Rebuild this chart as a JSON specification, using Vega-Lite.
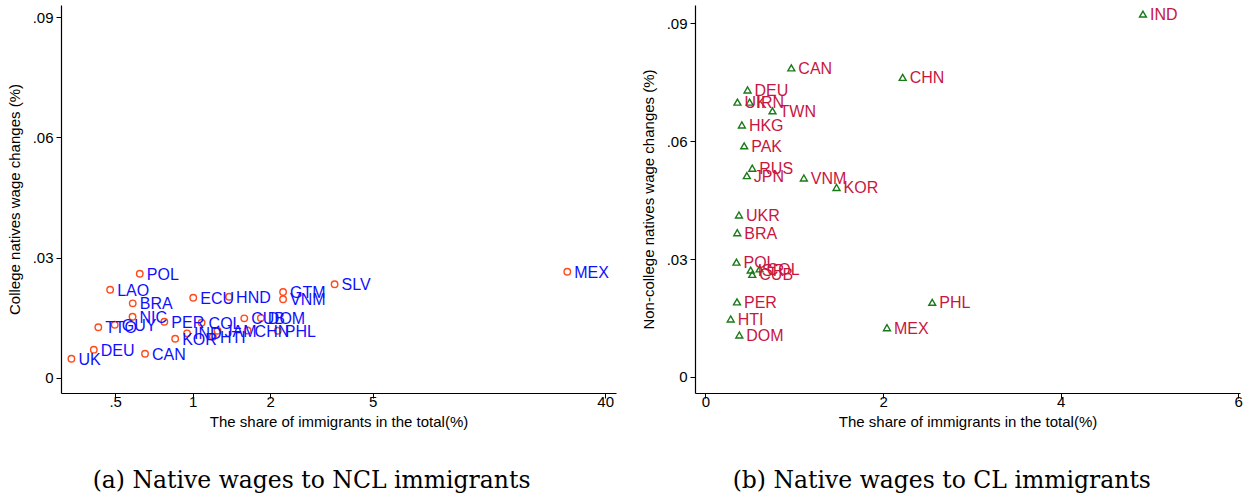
{
  "$schema": "https://vega.github.io/schema/vega-lite/v6.json",
  "padding": {"left": 7, "top": 5, "right": 0, "bottom": 0},
  "background": "white",
  "spacing": 25,
  "datasets": {
    "ncl": [
      {"country": "UK", "share": 0.338, "wage": 0.00481},
      {"country": "DEU", "share": 0.413, "wage": 0.00706},
      {"country": "CAN", "share": 0.653, "wage": 0.00606},
      {"country": "TTO", "share": 0.430, "wage": 0.01264},
      {"country": "GUY", "share": 0.498, "wage": 0.01329},
      {"country": "NIC", "share": 0.584, "wage": 0.01528},
      {"country": "BRA", "share": 0.585, "wage": 0.01862},
      {"country": "LAO", "share": 0.478, "wage": 0.0220},
      {"country": "POL", "share": 0.623, "wage": 0.0260},
      {"country": "PER", "share": 0.776, "wage": 0.01404},
      {"country": "KOR", "share": 0.855, "wage": 0.0098},
      {"country": "IND", "share": 0.951, "wage": 0.01114},
      {"country": "ECU", "share": 1.005, "wage": 0.0200},
      {"country": "COL", "share": 1.083, "wage": 0.01379},
      {"country": "HTI", "share": 1.198, "wage": 0.0103},
      {"country": "JAM", "share": 1.249, "wage": 0.01179},
      {"country": "HND", "share": 1.385, "wage": 0.02027},
      {"country": "CUB", "share": 1.586, "wage": 0.01488},
      {"country": "CHN", "share": 1.634, "wage": 0.01184},
      {"country": "DOM", "share": 1.840, "wage": 0.01496},
      {"country": "PHL", "share": 2.141, "wage": 0.01179},
      {"country": "GTM", "share": 2.244, "wage": 0.02144},
      {"country": "VNM", "share": 2.244, "wage": 0.01965},
      {"country": "SLV", "share": 3.557, "wage": 0.02336},
      {"country": "MEX", "share": 28.5, "wage": 0.0265}
    ],
    "cl": [
      {"country": "IND", "share": 4.927, "wage": 0.0923},
      {"country": "CAN", "share": 0.967, "wage": 0.0786},
      {"country": "CHN", "share": 2.221, "wage": 0.0762},
      {"country": "DEU", "share": 0.474, "wage": 0.0730},
      {"country": "UK", "share": 0.360, "wage": 0.0699},
      {"country": "IRN", "share": 0.497, "wage": 0.0699},
      {"country": "TWN", "share": 0.755, "wage": 0.0677},
      {"country": "HKG", "share": 0.410, "wage": 0.0641},
      {"country": "PAK", "share": 0.436, "wage": 0.0588},
      {"country": "RUS", "share": 0.527, "wage": 0.0531},
      {"country": "JPN", "share": 0.466, "wage": 0.0512},
      {"country": "VNM", "share": 1.108, "wage": 0.0506},
      {"country": "KOR", "share": 1.476, "wage": 0.0482},
      {"country": "UKR", "share": 0.377, "wage": 0.0412},
      {"country": "BRA", "share": 0.358, "wage": 0.0367},
      {"country": "POL", "share": 0.349, "wage": 0.0292},
      {"country": "ISR", "share": 0.509, "wage": 0.0272},
      {"country": "COL", "share": 0.610, "wage": 0.0275},
      {"country": "CUB", "share": 0.527, "wage": 0.0261},
      {"country": "PER", "share": 0.355, "wage": 0.0191},
      {"country": "HTI", "share": 0.284, "wage": 0.01475},
      {"country": "DOM", "share": 0.381, "wage": 0.01068},
      {"country": "MEX", "share": 2.044, "wage": 0.01254},
      {"country": "PHL", "share": 2.554, "wage": 0.0190}
    ]
  },
  "config": {
    "view": {"stroke": null},
    "axis": {
      "grid": false,
      "domainColor": "black",
      "domainWidth": 1.2,
      "tickColor": "black",
      "tickSize": 5,
      "labelFont": "Liberation Sans",
      "labelFontSize": 15,
      "labelColor": "black",
      "titleFont": "Liberation Sans",
      "titleFontSize": 15,
      "titleFontWeight": "normal",
      "titleColor": "black",
      "labelPadding": 3
    },
    "axisY": {"titlePadding": 10, "labelAngle": 0},
    "axisX": {"titlePadding": 5, "labelPadding": -4},
    "title": {
      "font": "DejaVu Serif",
      "fontSize": 23.5,
      "fontWeight": "normal",
      "color": "black",
      "orient": "bottom",
      "anchor": "middle",
      "frame": "bounds",
      "offset": 40
    }
  },
  "hconcat": [
    {
      "width": 555,
      "height": 388,
      "title": {"text": "(a) Native wages to NCL immigrants"},
      "data": {"name": "ncl"},
      "encoding": {
        "x": {
          "field": "share", "type": "quantitative",
          "scale": {"type": "log", "domain": [0.308, 44.06], "nice": false},
          "axis": {"title": "The share of immigrants in the total(%)", "values": [0.5, 1, 2, 5, 40],
                   "labelExpr": "datum.value < 1 ? '.5' : format(datum.value, 'd')"}
        },
        "y": {
          "field": "wage", "type": "quantitative",
          "scale": {"domain": [-0.00374, 0.0930], "nice": false, "zero": false},
          "axis": {"title": "College natives wage changes (%)", "values": [0, 0.03, 0.06, 0.09],
                   "labelExpr": "datum.value == 0 ? '0' : replace(format(datum.value, '.2f'), '0.', '.')"}
        }
      },
      "layer": [
        {"mark": {"type": "point", "shape": "circle", "filled": false, "color": "#FF4A1A", "strokeWidth": 1.4, "size": 42, "opacity": 1}},
        {"mark": {"type": "text", "align": "left", "baseline": "middle", "dx": 7, "dy": 1, "font": "Liberation Sans", "fontSize": 16, "color": "#1010FF"},
         "encoding": {"text": {"field": "country"}}}
      ]
    },
    {
      "width": 545,
      "height": 388,
      "title": {"text": "(b) Native wages to CL immigrants"},
      "data": {"name": "cl"},
      "encoding": {
        "x": {
          "field": "share", "type": "quantitative",
          "scale": {"domain": [-0.118, 6.02], "nice": false, "zero": false},
          "axis": {"title": "The share of immigrants in the total(%)", "values": [0, 2, 4, 6]}
        },
        "y": {
          "field": "wage", "type": "quantitative",
          "scale": {"domain": [-0.00407, 0.0946], "nice": false, "zero": false},
          "axis": {"title": "Non-college natives wage changes (%)", "values": [0, 0.03, 0.06, 0.09],
                   "labelExpr": "datum.value == 0 ? '0' : replace(format(datum.value, '.2f'), '0.', '.')"}
        }
      },
      "layer": [
        {"mark": {"type": "point", "shape": "triangle-up", "filled": false, "color": "#1A7A1A", "strokeWidth": 1.4, "size": 48, "opacity": 1}},
        {"mark": {"type": "text", "align": "left", "baseline": "middle", "dx": 7, "dy": 1, "font": "Liberation Sans", "fontSize": 16, "color": "#C8163F"},
         "encoding": {"text": {"field": "country"}}}
      ]
    }
  ]
}
